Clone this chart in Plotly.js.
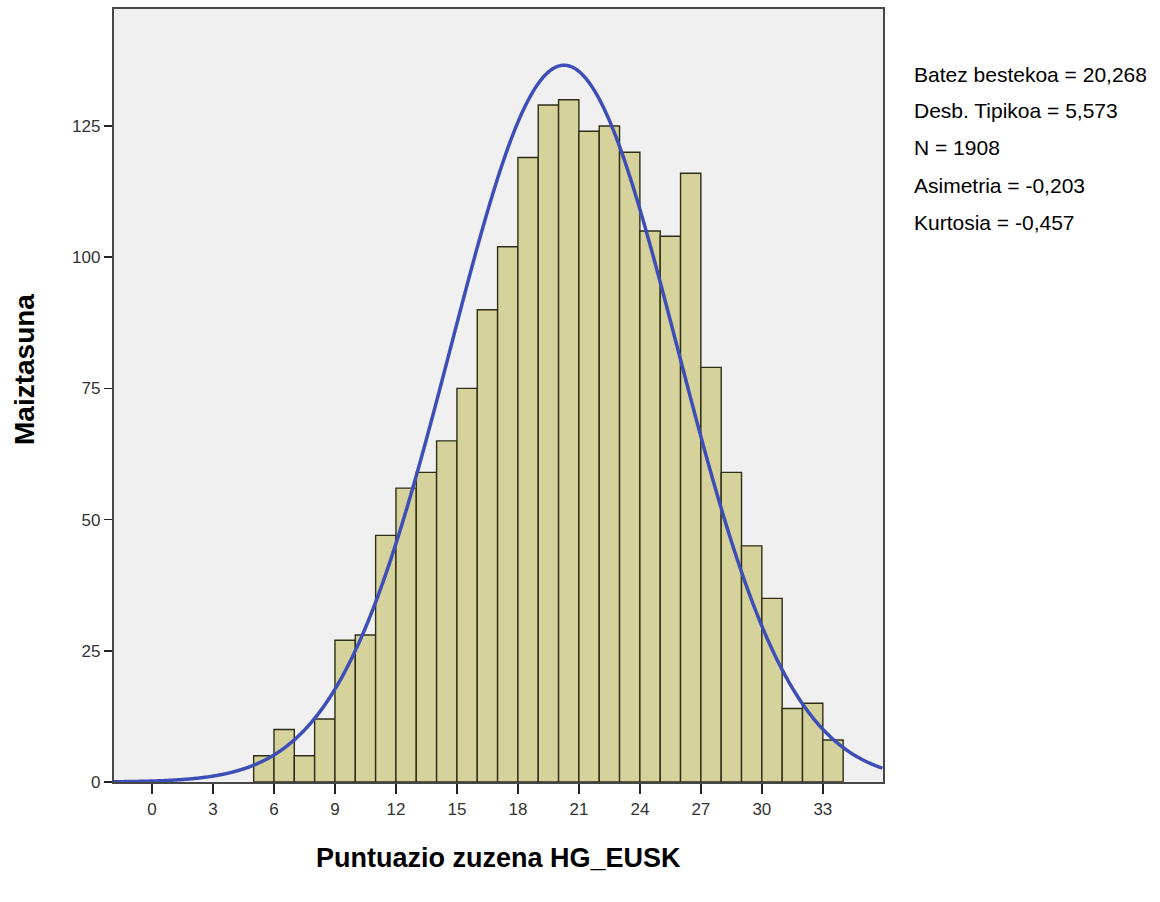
<!DOCTYPE html>
<html>
<head>
<meta charset="utf-8">
<script src="https://cdn.plot.ly/plotly-3.0.1.min.js"></script>
<style>html,body{margin:0;padding:0;background:#fff;}#chart{width:1160px;height:902px;}</style>
</head>
<body>
<div id="chart"></div>
<script>
// Histogram bins: lower edge of each bin (width 1)
var binStart = [5,6,7,8,9,10,11,12,13,14,15,16,17,18,19,20,21,22,23,24,25,26,27,28,29,30,31,32,33];
var binCount = [5,10,5,12,27,28,47,56,59,65,75,90,102,119,129,130,124,125,120,105,104,116,79,59,45,35,14,15,8];
var xTicks = [0,3,6,9,12,15,18,21,24,27,30,33];
var yTicks = [0,25,50,75,100,125];
var statsLabels = ["Batez bestekoa = 20,268","Desb. Tipikoa = 5,573","N = 1908","Asimetria = -0,203","Kurtosia = -0,457"];
var meanVal = 20.268, sdVal = 5.573, nVal = 1908, binWidth = 1;
var xRange = [-1.87, 35.96];
var yRange = [0, 147.3];

var barX = binStart.map(function(b){ return b + binWidth/2; });

// fitted normal curve (from the stated mean, sd and N)
var cx = [], cy = [];
for (var x = xRange[0]; x <= xRange[1] + 1e-9; x += 0.05) {
  cx.push(x);
  var z = (x - meanVal) / sdVal;
  cy.push(nVal * binWidth * Math.exp(-0.5 * z * z) / (sdVal * Math.sqrt(2 * Math.PI)));
}

var traces = [
  {type:'bar', x: barX, y: binCount, width: binWidth,
   marker:{color:'#d6d29c', line:{color:'#2e2e18', width:1.4}},
   hoverinfo:'x+y', showlegend:false},
  {type:'scatter', mode:'lines', x: cx, y: cy,
   line:{color:'#3d4fb6', width:3.5, shape:'spline'}, showlegend:false, hoverinfo:'skip'}
];

var pl = 114, pr = 277, pt = 9, pb = 120;
var pw = 1160 - pl - pr, ph = 902 - pt - pb;
function px2paperY(py){ return (902 - pb - py) / ph; }
function px2paperX(px){ return (px - pl) / pw; }

var annotations = statsLabels.map(function(t, i){
  return {text: t, xref:'paper', yref:'paper', x: px2paperX(912), y: px2paperY(74 + 37*i),
          xanchor:'left', yanchor:'middle', showarrow:false,
          font:{family:'Liberation Sans, Arial, sans-serif', size:21, color:'#000'}};
});
annotations.push({text:'<b>Puntuazio zuzena HG_EUSK</b>', xref:'paper', yref:'paper',
  x:0.5, y: px2paperY(858), xanchor:'center', yanchor:'middle', showarrow:false,
  font:{family:'Liberation Sans, Arial, sans-serif', size:27, color:'#000'}});
annotations.push({text:'<b>Maiztasuna</b>', xref:'paper', yref:'paper',
  x: px2paperX(24), y: px2paperY(370), xanchor:'center', yanchor:'middle', showarrow:false, textangle:-90,
  font:{family:'Liberation Sans, Arial, sans-serif', size:28, color:'#000'}});

var layout = {
  width:1160, height:902,
  margin:{l:pl, r:pr, t:pt, b:pb, pad:0},
  paper_bgcolor:'#ffffff', plot_bgcolor:'#f0f0f0',
  bargap:0,
  xaxis:{range:xRange, tickmode:'array', tickvals:xTicks, ticktext:xTicks.map(String),
         showgrid:false, zeroline:false, showline:true, mirror:true, linecolor:'#474747', linewidth:2.2,
         ticks:'outside', ticklen:10, tickwidth:1.5, tickcolor:'#222',
         tickfont:{family:'Liberation Sans, Arial, sans-serif', size:17, color:'#333'}, fixedrange:true},
  yaxis:{range:yRange, tickmode:'array', tickvals:yTicks, ticktext:yTicks.map(String),
         showgrid:false, zeroline:false, showline:true, mirror:true, linecolor:'#474747', linewidth:2.2,
         ticks:'outside', ticklen:8, tickwidth:1.5, tickcolor:'#222',
         tickfont:{family:'Liberation Sans, Arial, sans-serif', size:17, color:'#333'}, fixedrange:true},
  annotations: annotations
};

Plotly.newPlot('chart', traces, layout, {displayModeBar:false, staticPlot:true});
</script>
</body>
</html>
